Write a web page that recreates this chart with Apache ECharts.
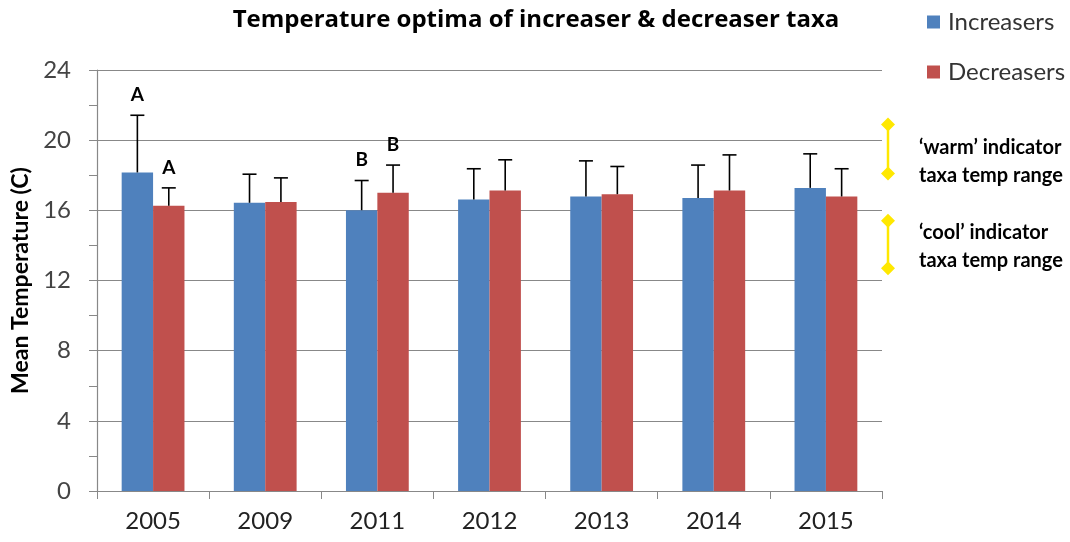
<!DOCTYPE html>
<html><head><meta charset="utf-8">
<script src="https://cdn.jsdelivr.net/npm/echarts@6/dist/echarts.min.js"></script>
<style>html,body{margin:0;padding:0;background:#fff}#c{width:1070px;height:542px}</style>
</head><body><div id="c"></div>
<script>
const years = ['2005','2009','2011','2012','2013','2014','2015'];
const increasers = [18.16, 16.43, 16.01, 16.62, 16.79, 16.71, 17.28];
const increasersErrTop = [21.42, 18.06, 17.70, 18.37, 18.82, 18.58, 19.22];
const decreasers = [16.26, 16.48, 17.0, 17.13, 16.92, 17.13, 16.79];
const decreasersErrTop = [17.28, 17.85, 18.58, 18.88, 18.50, 19.16, 18.37];
const incLetters = ['A', '', 'B', '', '', '', ''];
const decLetters = ['A', '', 'B', '', '', '', ''];
const warmRange = [18.1, 20.9];
const coolRange = [12.7, 15.4];
const yTicks = [0, 24, 4];

const FONT = 'Lato, "Open Sans", sans-serif';
const chart = echarts.init(document.getElementById('c'));

function errSeries(name, vals, tops, letters, side) {
  return {
    type: 'custom', name: name + ' err', silent: true, z: 5,
    data: years.map((y, i) => [i, vals[i], tops[i], letters[i]]),
    renderItem: function (params, api) {
      const catW = api.size([1, 0])[0];
      const cx = api.coord([api.value(0), 0])[0] + side * catW * 0.14;
      const yb = api.coord([0, api.value(1)])[1];
      const yt = api.coord([0, api.value(2)])[1];
      const cap = 7;
      const st = { stroke: '#000', lineWidth: 1.6 };
      const children = [
        { type: 'line', shape: { x1: cx, y1: yb, x2: cx, y2: yt }, style: st },
        { type: 'line', shape: { x1: cx - cap, y1: yt, x2: cx + cap, y2: yt }, style: st }
      ];
      const letter = letters[params.dataIndex];
      if (letter) {
        children.push({ type: 'text', x: cx, y: yt - 11, style: { text: letter, fill: '#000', font: 'bold 19px ' + FONT, align: 'center', verticalAlign: 'bottom' } });
      }
      return { type: 'group', children: children };
    }
  };
}

const option = {
  animation: false,
  backgroundColor: '#fff',
  title: {
    text: 'Temperature optima of increaser & decreaser taxa',
    left: 531, top: 3, textAlign: 'center',
    textStyle: { fontFamily: '"Open Sans", Lato, sans-serif', fontWeight: 'bold', fontSize: 24, color: '#000' }
  },
  legend: {
    left: 927, top: 10, orient: 'vertical', itemGap: 26, padding: 0,
    itemWidth: 13, itemHeight: 13, icon: 'rect',
    data: ['Increasers', 'Decreasers'],
    textStyle: { fontFamily: FONT, fontSize: 24, color: '#333', padding: [0, 0, 0, 3] }
  },
  grid: { left: 97, right: 188, top: 70, bottom: 51 },
  xAxis: {
    type: 'category', data: years,
    axisLine: { lineStyle: { color: '#888', width: 1.2 } },
    axisTick: { show: true, length: 8, lineStyle: { color: '#888' } },
    axisLabel: { fontFamily: FONT, fontSize: 24, color: '#222', margin: 18 }
  },
  yAxis: {
    type: 'value', min: yTicks[0], max: yTicks[1], interval: yTicks[2],
    name: 'Mean Temperature (C)', nameLocation: 'middle', nameGap: 56, nameRotate: 90,
    nameTextStyle: { fontFamily: FONT, fontWeight: 'bold', fontSize: 23, color: '#000' },
    axisLine: { show: true, lineStyle: { color: '#888', width: 1.2 } },
    axisTick: { show: true, length: 8, lineStyle: { color: '#888' } },
    minorTick: { show: true, splitNumber: 2, length: 8, lineStyle: { color: '#888' } },
    splitLine: { lineStyle: { color: '#888', width: 1.2 } },
    axisLabel: { fontFamily: FONT, fontSize: 24, color: '#444', margin: 26 }
  },
  series: [
    { name: 'Increasers', type: 'bar', data: increasers, barWidth: '28%', barGap: '0%', itemStyle: { color: '#4F81BD' } },
    { name: 'Decreasers', type: 'bar', data: decreasers, barWidth: '28%', barGap: '0%', itemStyle: { color: '#C0504D' } },
    errSeries('Increasers', increasers, increasersErrTop, incLetters, -1),
    errSeries('Decreasers', decreasers, decreasersErrTop, decLetters, 1),
    {
      type: 'custom', name: 'ranges', silent: true, clip: false, z: 6,
      data: [warmRange, coolRange],
      renderItem: function (params, api) {
        const cs = params.coordSys;
        const x = cs.x + cs.width + 6;
        const y1 = api.coord([0, api.value(0)])[1];
        const y2 = api.coord([0, api.value(1)])[1];
        const d = 7;
        const fill = '#FFE800';
        const dia = (yy) => ({ type: 'polygon', shape: { points: [[x, yy - d], [x + d, yy], [x, yy + d], [x - d, yy]] }, style: { fill: fill } });
        return { type: 'group', children: [
          { type: 'line', shape: { x1: x, y1: y1, x2: x, y2: y2 }, style: { stroke: fill, lineWidth: 2.5 } },
          dia(y1), dia(y2)
        ] };
      }
    }
  ],
  graphic: [
    { type: 'text', left: 919, top: 134, style: { text: '\u2018warm\u2019 indicator\ntaxa temp range', font: 'bold 20px ' + FONT, fill: '#000', lineHeight: 28 } },
    { type: 'text', left: 919, top: 219, style: { text: '\u2018cool\u2019 indicator\ntaxa temp range', font: 'bold 20px ' + FONT, fill: '#000', lineHeight: 28 } }
  ]
};
chart.setOption(option);
</script></body></html>
